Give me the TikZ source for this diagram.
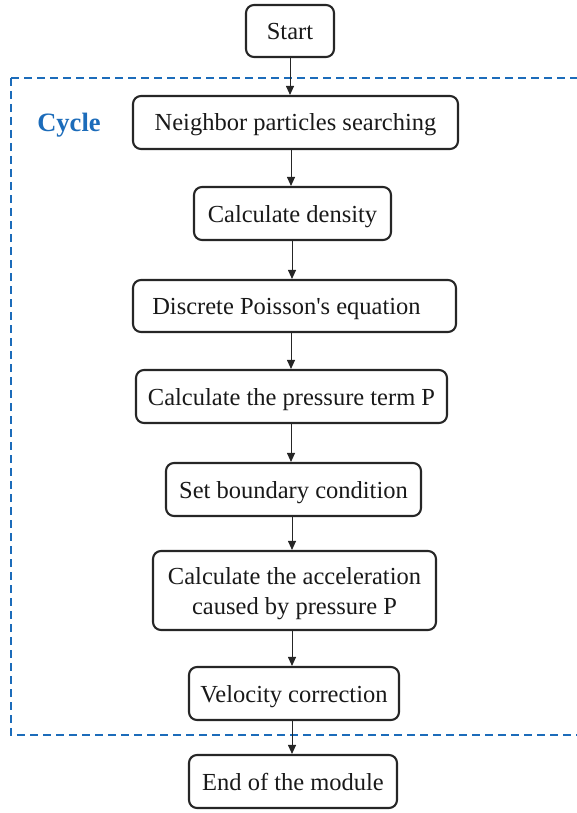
\documentclass[tikz,border=0pt]{standalone}
\usepackage{fontspec}
\setmainfont{Liberation Serif}
\usetikzlibrary{arrows.meta}
\definecolor{cycleblue}{RGB}{28,108,186}
\begin{document}
\begin{tikzpicture}[x=1pt,y=-1pt,
  stepbox/.style={draw=black!85, line width=2.1pt, rounded corners=8pt,
    align=center, inner sep=0pt, text depth=0pt, font=\fontsize{24.5}{30}\selectfont, text=black!90},
  flow/.style={-{Triangle[length=9pt,width=8pt]}, line width=1pt, black!85},
  cyclebox/.style={draw=cycleblue, line width=1.8pt, dash pattern=on 8pt off 5pt}]
\useasboundingbox (0,0) rectangle (576,813);
% the repeated calculation loop
\draw[cyclebox] (11,78) -- (11,735) -- (590,735);
\draw[cyclebox] (11,78) -- (590,78);
\node[text=cycleblue, font=\fontsize{26.5}{30}\selectfont\bfseries, anchor=center] (cyc) at (69,125) {Cycle};
% flow chart steps
\node[stepbox, minimum width=88pt, minimum height=52pt] (start) at (290,31) {Start};
\node[stepbox, minimum width=325pt, minimum height=53pt] (s1) at (295.5,122.5) {Neighbor particles searching};
\node[stepbox, minimum width=197pt, minimum height=53pt] (s2) at (292.5,213.5) {Calculate density};
\node[stepbox, minimum width=323pt, minimum height=52pt] (s3) at (294.5,306) {Discrete Poisson\textquotesingle s equation\hspace*{16pt}};
\node[stepbox, minimum width=311pt, minimum height=53pt] (s4) at (291.5,396.5) {Calculate the pressure term P};
\node[stepbox, minimum width=255pt, minimum height=53pt] (s5) at (293.5,489.5) {Set boundary condition};
\node[stepbox, minimum width=283pt, minimum height=79pt] (s6) at (294.5,590.5) {Calculate the acceleration\\caused by pressure P};
\node[stepbox, minimum width=210pt, minimum height=53pt] (s7) at (294,693.5) {Velocity correction};
\node[stepbox, minimum width=208pt, minimum height=53pt] (s8) at (293,781.5) {End of the module};
% connectors
\draw[flow] (start.south -| 290,0) -- (s1.north -| 290,0);
\draw[flow] (s1.south -| 291,0) -- (s2.north -| 291,0);
\draw[flow] (s2.south -| 292,0) -- (s3.north -| 292,0);
\draw[flow] (s3.south -| 291,0) -- (s4.north -| 291,0);
\draw[flow] (s4.south -| 291,0) -- (s5.north -| 291,0);
\draw[flow] (s5.south -| 292,0) -- (s6.north -| 292,0);
\draw[flow] (s6.south -| 292,0) -- (s7.north -| 292,0);
\draw[flow] (s7.south -| 292,0) -- (s8.north -| 292,0);
\end{tikzpicture}
\end{document}
